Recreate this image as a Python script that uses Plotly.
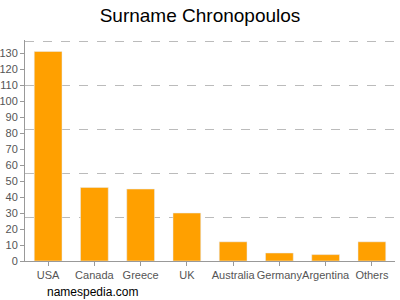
import plotly.graph_objects as go

countries = ["USA", "Canada", "Greece", "UK", "Australia", "Germany", "Argentina", "Others"]
counts = [131, 46, 45, 30, 12, 5, 4, 12]
tick_vals = list(range(0, 140, 10))
grid_vals = [27.5, 55, 82.5, 110, 137.5]

fig = go.Figure()
fig.add_trace(go.Bar(x=countries, y=counts, marker_color="#FFA000", width=0.6,
                     hoverinfo="x+y"))
fig.add_trace(go.Scatter(x=countries, y=[None]*len(countries), yaxis="y2",
                         showlegend=False, hoverinfo="skip"))

fig.update_layout(
    width=400, height=300,
    margin=dict(l=25, r=5, t=40, b=39),
    paper_bgcolor="white", plot_bgcolor="white",
    showlegend=False,
    title=dict(text="Surname Chronopoulos", x=0.5, xanchor="center", y=0.95, yanchor="middle",
               font=dict(family="Liberation Sans, Arial", size=19, color="#000")),
    font=dict(family="Liberation Sans, Arial", size=11, color="#555"),
    bargap=0.4,
    xaxis=dict(showline=True, linecolor="#999", linewidth=1, ticks="outside",
               ticklen=4, tickcolor="#999", showgrid=False, tickangle=0, automargin=False,
               tickfont=dict(size=11, color="#555")),
    yaxis=dict(range=[0, 138.2], tickvals=tick_vals, showline=True, linecolor="#999",
               linewidth=1, ticks="outside", ticklen=4, tickcolor="#999", automargin=False,
               showgrid=False, zeroline=False, tickfont=dict(size=11, color="#555")),
    yaxis2=dict(range=[0, 138.2], overlaying="y", side="right", tickvals=grid_vals,
                showticklabels=False, showgrid=True, gridcolor="#bbb", griddash="dash",
                gridwidth=1, zeroline=False, showline=False, automargin=False),
    annotations=[dict(text="namespedia.com", xref="paper", yref="paper",
                      x=0.054, y=-0.14, xanchor="left", yanchor="middle", showarrow=False,
                      font=dict(family="Liberation Sans, Arial", size=12, color="#000"))],
)

fig.write_html("out.html")
